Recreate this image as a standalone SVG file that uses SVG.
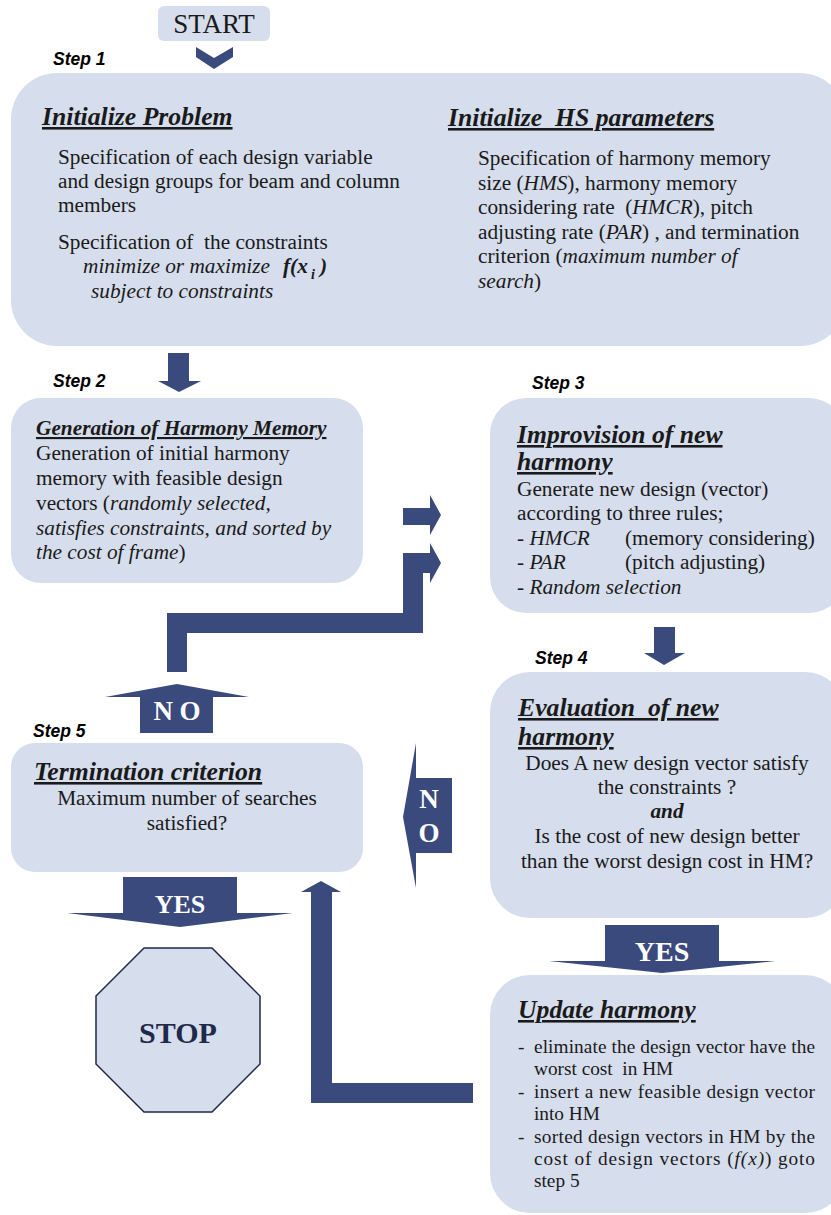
<svg xmlns="http://www.w3.org/2000/svg" width="831" height="1215" viewBox="0 0 831 1215">
<style>
.box{fill:#d6ddec}
.arr{fill:#3b4a7c}
.t{font-family:"Liberation Serif","Times New Roman",serif;fill:#1a1a1a}
.b19{font-size:21.3px}
.h24{font-size:25.7px;font-weight:bold;font-style:italic;text-decoration:underline}
.i{font-style:italic}
.bi{font-weight:bold;font-style:italic}
.step{font-family:"Liberation Sans",Arial,sans-serif;font-size:17.5px;font-weight:bold;font-style:italic;fill:#000}
.lbl{font-family:"Liberation Serif","Times New Roman",serif;font-weight:bold;fill:#fff}
.li{font-size:19.3px}
</style>
<rect width="831" height="1215" fill="#fff"/>

<g id="start">
<rect class="box" x="158" y="6" width="112" height="35" rx="6"/>
<text class="t" x="214" y="33" font-size="27" text-anchor="middle">START</text>
</g>

<g id="step1">
<text class="step" x="53" y="65">Step 1</text>
<rect class="box" x="11" y="73" width="835" height="273" rx="46"/>
<text class="t h24" x="42" y="125">Initialize Problem</text>
<text class="t b19" x="58" y="164">Specification of each design variable</text>
<text class="t b19" x="58" y="188">and design groups for beam and column</text>
<text class="t b19" x="58" y="212">members</text>
<text class="t b19" x="58" y="249" xml:space="preserve">Specification of  the constraints</text>
<text class="t b19 i" x="83" y="273">minimize or maximize</text>
<text class="t b19 bi" x="283" y="273">f(x</text>
<text class="t bi" x="311" y="279" font-size="14">i</text>
<text class="t b19 bi" x="320" y="273">)</text>
<text class="t b19 i" x="91" y="298">subject to constraints</text>
<text class="t h24" x="448" y="126" xml:space="preserve">Initialize  HS parameters</text>
<text class="t b19" x="478" y="165">Specification of harmony memory</text>
<text class="t b19" x="478" y="190">size (<tspan class="i">HMS</tspan>), harmony memory</text>
<text class="t b19" x="478" y="214" xml:space="preserve">considering rate  (<tspan class="i">HMCR</tspan>), pitch</text>
<text class="t b19" x="478" y="239">adjusting rate (<tspan class="i">PAR</tspan>) , and termination</text>
<text class="t b19" x="478" y="263">criterion (<tspan class="i">maximum number of</tspan></text>
<text class="t b19" x="478" y="288"><tspan class="i">search</tspan>)</text>
</g>

<g id="step2">
<text class="step" x="53" y="387">Step 2</text>
<rect class="box" x="11" y="398" width="352" height="185" rx="30"/>
<text class="t bi" x="36" y="435" font-size="21.3" text-decoration="underline">Generation of Harmony Memory</text>
<text class="t b19" x="36" y="460">Generation of initial harmony</text>
<text class="t b19" x="36" y="485">memory with feasible design</text>
<text class="t b19" x="36" y="510">vectors (<tspan class="i">randomly selected,</tspan></text>
<text class="t b19 i" x="36" y="535">satisfies constraints, and sorted by</text>
<text class="t b19" x="36" y="559"><tspan class="i">the cost of frame</tspan>)</text>
</g>

<g id="step3">
<text class="step" x="532" y="389">Step 3</text>
<rect class="box" x="490" y="398" width="355" height="215" rx="36"/>
<text class="t h24" x="517" y="443">Improvision of new</text>
<text class="t h24" x="517" y="470">harmony</text>
<text class="t b19" x="517" y="496">Generate new design (vector)</text>
<text class="t b19" x="517" y="520">according to three rules;</text>
<text class="t b19" x="517" y="545">- <tspan class="i">HMCR</tspan></text>
<text class="t b19" x="625" y="545">(memory considering)</text>
<text class="t b19" x="517" y="569">- <tspan class="i">PAR</tspan></text>
<text class="t b19" x="625" y="569">(pitch adjusting)</text>
<text class="t b19" x="517" y="594">- <tspan class="i">Random selection</tspan></text>
</g>

<g id="step4">
<text class="step" x="535" y="664">Step 4</text>
<rect class="box" x="490" y="672" width="355" height="246" rx="40"/>
<text class="t h24" x="518" y="716" xml:space="preserve">Evaluation  of new</text>
<text class="t h24" x="518" y="745">harmony</text>
<text class="t b19" x="667" y="770" text-anchor="middle">Does A new design vector satisfy</text>
<text class="t b19" x="667" y="794" text-anchor="middle">the constraints ?</text>
<text class="t b19 bi" x="667" y="818" text-anchor="middle">and</text>
<text class="t b19" x="667" y="843" text-anchor="middle">Is the cost of new design better</text>
<text class="t b19" x="667" y="868" text-anchor="middle">than the worst design cost in HM?</text>
</g>

<g id="step5">
<text class="step" x="33" y="737">Step 5</text>
<rect class="box" x="11" y="743" width="352" height="129" rx="24"/>
<text class="t h24" x="34" y="780">Termination criterion</text>
<text class="t b19" x="187" y="805" text-anchor="middle">Maximum number of searches</text>
<text class="t b19" x="187" y="830" text-anchor="middle">satisfied?</text>
</g>

<g id="update">
<rect class="box" x="490" y="975" width="355" height="238" rx="40"/>
<text class="t h24" x="518" y="1018">Update harmony</text>
<text class="t li" x="518" y="1053">-</text>
<text class="t li" x="534" y="1053" textLength="281" lengthAdjust="spacing">eliminate the design vector have the</text>
<text class="t li" x="534" y="1075" xml:space="preserve">worst cost  in HM</text>
<text class="t li" x="518" y="1098">-</text>
<text class="t li" x="534" y="1098" textLength="281" lengthAdjust="spacing">insert a new feasible design vector</text>
<text class="t li" x="534" y="1120">into HM</text>
<text class="t li" x="518" y="1143">-</text>
<text class="t li" x="534" y="1143" textLength="281" lengthAdjust="spacing">sorted design vectors in HM by the</text>
<text class="t li" x="534" y="1165" textLength="281" lengthAdjust="spacing">cost of design vectors (<tspan class="i">f(x)</tspan>) goto</text>
<text class="t li" x="534" y="1187">step 5</text>
</g>

<g id="stop">
<polygon points="144,948 212,948 260,996 260,1064 212,1112 144,1112 96,1064 96,996" fill="#d6ddec" stroke="#1f2a4a" stroke-width="1.5"/>
<text x="178" y="1043" font-family="Liberation Serif,serif" font-size="30" font-weight="bold" fill="#1f2a4a" text-anchor="middle">STOP</text>
</g>

<g id="connectors">
<polygon class="arr" points="196,47 214,58 233,47 233,57 214,69 196,57"/>
<polygon class="arr" points="168,353 189,353 189,381 201,381 179,392 158,381 168,381"/>
<polygon class="arr" points="654,627 675,627 675,653 685,653 664,665 644,653 654,653"/>
<polygon class="arr" points="403,508 430,508 430,495 441,515 430,535 430,525 403,525"/>
<polygon class="arr" points="167,672 167,613 403,613 403,553 430,553 430,543 441,563 430,583 430,573 423,573 423,633 187,633 187,672"/>
<polygon class="arr" points="140,733 140,697 105,697 177,684 249,697 213,697 213,733"/>
<text class="lbl" x="177" y="720" font-size="27" text-anchor="middle" xml:space="preserve">N O</text>
<polygon class="arr" points="452,778 452,853 416,853 416,888 403,817 416,743 416,778"/>
<text class="lbl" x="429" y="808" font-size="27" text-anchor="middle">N</text>
<text class="lbl" x="429" y="842" font-size="27" text-anchor="middle">O</text>
<polygon class="arr" points="123,877 237,877 237,913 293,913 180,927 67,913 123,913"/>
<text class="lbl" x="180" y="913" font-size="26" text-anchor="middle">YES</text>
<polygon class="arr" points="605,925 719,925 719,961 775,961 662,973 549,961 605,961"/>
<text class="lbl" x="662" y="961" font-size="28" text-anchor="middle">YES</text>
<polygon class="arr" points="473,1083 332,1083 332,892 341,892 321,881 301,892 311,892 311,1103 473,1103"/>
</g>
</svg>
